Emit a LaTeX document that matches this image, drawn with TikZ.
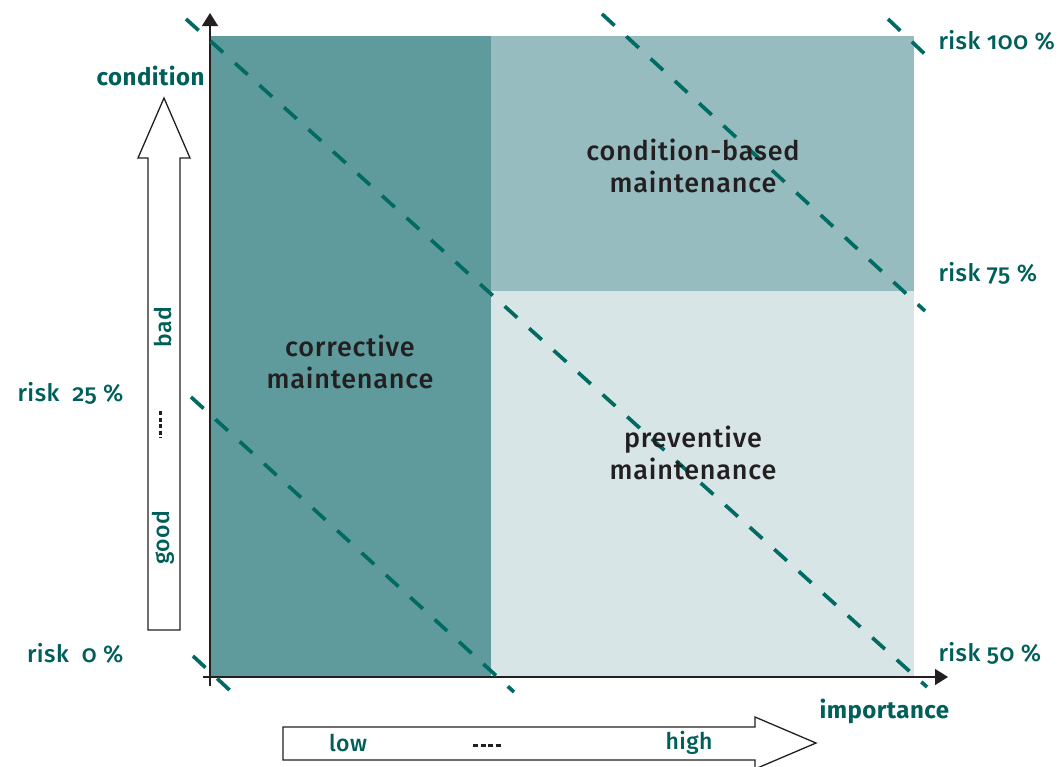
\documentclass[tikz,border=0pt]{standalone}
\usepackage{fontspec}
\setmainfont{Fira Sans}[Numbers=OldStyle, UprightFont=* Medium, BoldFont=* Bold]
\usetikzlibrary{arrows.meta}
\definecolor{darkreg}{HTML}{5F9B9D}
\definecolor{midreg}{HTML}{96BCBF}
\definecolor{lightreg}{HTML}{D8E5E6}
\definecolor{teal}{HTML}{006A63}
\definecolor{tealtext}{HTML}{005F5A}
\definecolor{ink}{HTML}{231F20}
\tikzset{
  risk/.style={draw=teal, line width=3.7pt, dash pattern=on 17pt off 16pt},
  axis/.style={draw=ink, line width=1.3pt, -{Triangle[length=13pt,width=16pt]}},
  hollow/.style={draw=ink, line width=1.3pt, fill=white},
  regionlabel/.style={text=ink, font=\fontsize{27}{32}\selectfont\addfontfeatures{LetterSpace=3}, align=center},
  risklabel/.style={text=tealtext, font=\fontsize{24}{25}\selectfont\addfontfeatures{LetterSpace=2}, anchor=west},
  axislabel/.style={text=tealtext, font=\fontsize{24}{25}\selectfont\bfseries\addfontfeatures{LetterSpace=2}},
  scalelabel/.style={text=tealtext, font=\fontsize{23}{24}\selectfont\addfontfeatures{LetterSpace=2}},
}
\begin{document}
\begin{tikzpicture}[x=1pt,y=-1pt]
\useasboundingbox (0,0) rectangle (1059,766);
% regions
\fill[darkreg] (210,36) rectangle (491,677);
\fill[midreg] (491,36) rectangle (914,291);
\fill[lightreg] (491,291) rectangle (914,677);
% axes
\coordinate (yb) at (210,686);
\coordinate (yt) at (210,13);
\coordinate (xl) at (203,677);
\coordinate (xr) at (948,677);
\draw[axis] (yb) -- (yt);
\draw[axis] (xl) -- (xr);
% risk lines
\coordinate (a0) at (193,656); \coordinate (b0) at (237,697);
\coordinate (a1) at (191,397); \coordinate (b1) at (514,692);
\coordinate (a2) at (186,19);  \coordinate (b2) at (927,687);
\coordinate (a3) at (602,14);  \coordinate (b3) at (925,311);
\coordinate (a4) at (888,19);  \coordinate (b4) at (931,60);
\draw[risk] (a0) -- (b0);
\draw[risk] (a1) -- (b1);
\draw[risk] (a2) -- (b2);
\draw[risk] (a3) -- (b3);
\draw[risk] (a4) -- (b4);
% hollow arrows
\draw[hollow] (148,630) -- (180,630) -- (180,158) -- (190,158) -- (164,98) -- (138,158) -- (148,158) -- cycle;
\draw[hollow] (283,727) -- (755,727) -- (755,717) -- (816,743) -- (755,769) -- (755,760) -- (283,760) -- cycle;
% labels
\node[regionlabel] (cb) at (693,166) {condition-based\\maintenance};
\node[regionlabel] (co) at (350,362) {corrective\\maintenance};
\node[regionlabel] (pr) at (693,453) {preventive\\maintenance};
\node[axislabel, anchor=east] (cond) at (208,76) {condition};
\node[axislabel, anchor=west] (imp) at (816,711) {importance};
\node[risklabel] (r100) at (935,40) {risk 100 \%};
\node[risklabel] (r75) at (935,273) {risk 75 \%};
\node[risklabel] (r50) at (935,653) {risk 50 \%};
\node[risklabel, anchor=east] (r25) at (127,393) {risk\ \ 25 \%};
\node[risklabel, anchor=east] (r0) at (127,653) {risk\ \ 0 \%};
\node[scalelabel, rotate=90] (bad) at (163,327) {bad};
\node[scalelabel, rotate=90] (good) at (163,538) {good};
\draw[ink, line width=3pt, dash pattern=on 4pt off 2.5pt] (160,411) -- (160,438);
\node[scalelabel] (low) at (348,743) {low};
\node[scalelabel] (high) at (689,743) {high};
\draw[ink, line width=3pt, dash pattern=on 5pt off 2.5pt] (473,745) -- (501,745);
\end{tikzpicture}
\end{document}
